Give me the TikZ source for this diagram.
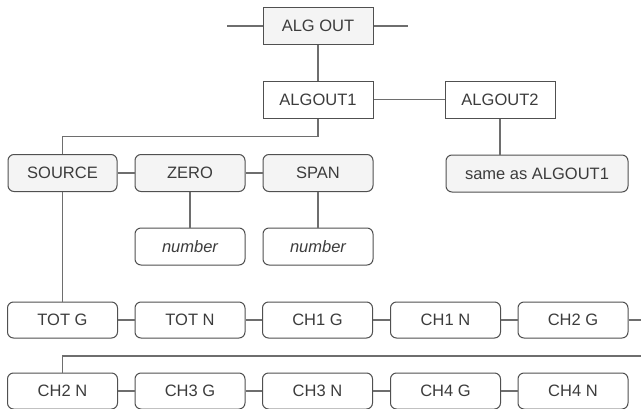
\documentclass[tikz,border=0pt]{standalone}
\usepackage{fontspec}
\setmainfont{Liberation Sans}
\usepackage{xcolor}
\usetikzlibrary{positioning}

\definecolor{linegray}{HTML}{6E6E6E}
\definecolor{boxgray}{HTML}{505050}
\definecolor{textgray}{HTML}{3C3C3C}
\definecolor{lightfill}{HTML}{F4F4F4}

\tikzset{
  menubox/.style={draw=boxgray, line width=1pt, fill=white, text=textgray,
    minimum width=110pt, minimum height=37pt, inner sep=0pt,
    font=\fontsize{16.5}{19}\selectfont},
  shaded/.style={fill=lightfill},
  roundbox/.style={menubox, rounded corners=6pt},
  link/.style={draw=linegray, line width=1.2pt}
}

\begin{document}
\begin{tikzpicture}[x=1pt,y=-1pt]
\useasboundingbox (0,0) rectangle (641,408);

% top of the menu
\node[menubox,shaded] (algout) at (318,26) {ALG OUT};
\node[menubox] (algout1) at (318,99.5) {ALGOUT1};
\node[menubox] (algout2) at (500,99.5) {ALGOUT2};

% parameters of ALGOUT1
\node[roundbox,shaded,minimum width=109pt] (source) at (62.5,173) {SOURCE};
\node[roundbox,shaded] (zero) at (190,173) {ZERO};
\node[roundbox,shaded] (span) at (318,173) {SPAN};
\node[roundbox] (zeronum) at (190,246.5) {\itshape number};
\node[roundbox] (spannum) at (318,246.5) {\itshape number};
\node[roundbox,shaded,minimum width=182pt] (same) at (537,173.5) {same as ALGOUT1};

% source choices
\node[roundbox,minimum height=36pt] (totg) at (62.5,320) {TOT G};
\node[roundbox,minimum height=36pt] (totn) at (190,320) {TOT N};
\node[roundbox,minimum height=36pt] (ch1g) at (317.5,320) {CH1 G};
\node[roundbox,minimum height=36pt] (ch1n) at (445.5,320) {CH1 N};
\node[roundbox,minimum height=36pt] (ch2g) at (573,320) {CH2 G};

\node[roundbox,minimum height=36pt] (ch2n) at (62.5,391) {CH2 N};
\node[roundbox,minimum height=36pt] (ch3g) at (190,391) {CH3 G};
\node[roundbox,minimum height=36pt] (ch3n) at (317.5,391) {CH3 N};
\node[roundbox,minimum height=36pt] (ch4g) at (445.5,391) {CH4 G};
\node[roundbox,minimum height=36pt] (ch4n) at (573,391) {CH4 N};

\coordinate (leftend) at (227,26);
\coordinate (rightend) at (408,26);
\coordinate (wrapend) at (641,320);
\coordinate (wrapback) at (641,356);

\draw[link] (leftend) -- (algout.west);
\draw[link] (algout.east) -- (rightend);
\draw[link] (algout.south) -- (algout1.north);
\draw[link] (algout1.east) -- (algout2.west);
\draw[link] (algout2.south) -- (algout2.south |- same.north);
\draw[link] (algout1.south) -- ++(0,18) -| (source.north);
\draw[link] (source.east) -- (zero.west);
\draw[link] (zero.east) -- (span.west);
\draw[link] (zero.south) -- (zeronum.north);
\draw[link] (span.south) -- (spannum.north);
\draw[link] (source.south) -- (totg.north);

\draw[link] (totg) -- (totn);
\draw[link] (totn) -- (ch1g);
\draw[link] (ch1g) -- (ch1n);
\draw[link] (ch1n) -- (ch2g);
\draw[link] (ch2g.east) -- (wrapend);
\draw[link] (wrapback) -| (ch2n.north);
\draw[link] (ch2n) -- (ch3g);
\draw[link] (ch3g) -- (ch3n);
\draw[link] (ch3n) -- (ch4g);
\draw[link] (ch4g) -- (ch4n);
\end{tikzpicture}
\end{document}
